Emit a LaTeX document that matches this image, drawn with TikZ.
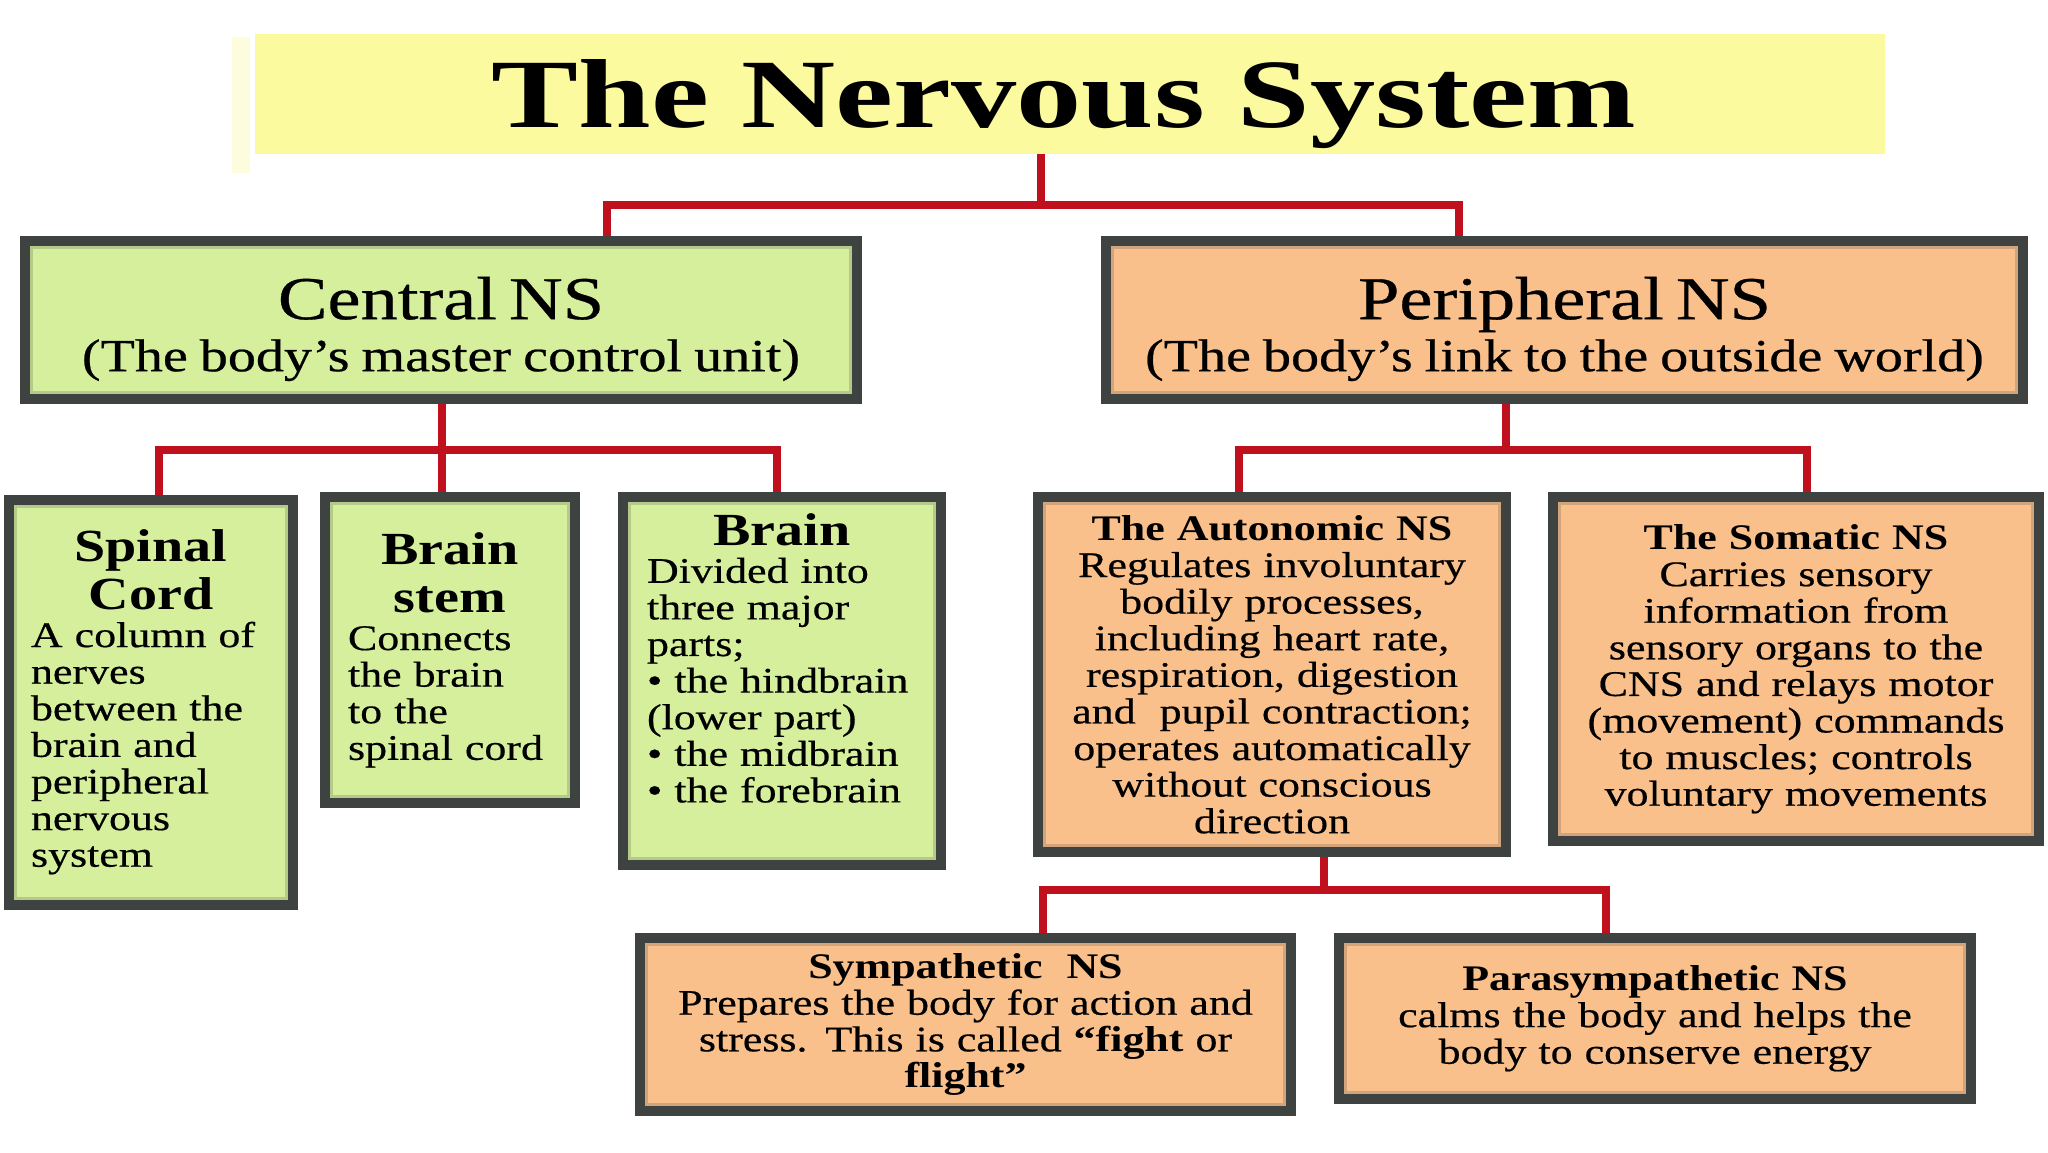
\documentclass[tikz,border=0pt]{standalone}
\usepackage{fontspec}
\setmainfont{Liberation Serif}[FakeStretch=1.22, UprightFeatures={FakeBold=0.5}]
\newfontfamily\bigtitlefamily{Liberation Serif}[FakeStretch=1.33]
\usetikzlibrary{backgrounds}
\definecolor{frameC}{RGB}{62,66,64}
\definecolor{greenC}{RGB}{214,239,156}
\definecolor{orangeC}{RGB}{250,192,140}
\definecolor{yellowC}{RGB}{251,250,158}
\definecolor{faintC}{RGB}{253,253,222}
\definecolor{redC}{RGB}{192,16,30}
\newcommand\bdA{\lineskiplimit=-100pt\fontsize{36}{36.6}\selectfont}
\newcommand\hdA{\fontsize{46}{48}\selectfont\bfseries}
\newcommand\ttlF{\bigtitlefamily\bfseries\fontsize{98}{100}\selectfont}
\newcommand\mainA{\fontsize{61}{61}\selectfont}
\newcommand\subA{\fontsize{46}{52}\selectfont}
\tikzset{
  box/.style={draw=frameC, line width=10pt, inner sep=0pt, outer sep=0pt, font=\bdA},
  gbox/.style={box, fill=greenC, path picture={\draw[line width=16pt, draw=greenC!78!frameC] (path picture bounding box.south west) rectangle (path picture bounding box.north east);}},
  obox/.style={box, fill=orangeC, path picture={\draw[line width=16pt, draw=orangeC!78!frameC] (path picture bounding box.south west) rectangle (path picture bounding box.north east);}},
  txt/.style={inner sep=0pt, outer sep=0pt, font=\bdA},
  conn/.style={draw=redC, line width=8pt, line join=miter},
}
\begin{document}
\begin{tikzpicture}[x=1pt,y=-1pt]
\useasboundingbox (0,0) rectangle (2048,1152);
% title
\node[fill=yellowC, minimum width=1630, minimum height=120, inner sep=0pt, outer sep=0pt] (title) at (1070,94) {};
\node[anchor=base, font=\ttlF, inner sep=0pt] (titleTxt) at (1064,127) {The Nervous System};
% level 1
\node[gbox, minimum width=832, minimum height=158] (cns) at (441,320) {};
\node[txt, text width=820, align=center] (cnsTxt) at (441,329)
  {\mainA Central NS\\\subA (The body’s master control unit)\par};
\node[obox, minimum width=917, minimum height=158] (pns) at (1564.5,320) {};
\node[txt, text width=900, align=center] (pnsTxt) at (1564.5,329)
  {\mainA Peripheral NS\\\subA (The body’s link to the outside world)\par};
% CNS children
\node[gbox, minimum width=284, minimum height=405, text width=240, align=left] (spinal) at (151,702)
  {\makebox[\linewidth]{\hdA Spinal}\\[11.4pt]\makebox[\linewidth]{\hdA Cord}\\[1pt]A column of\\nerves\\between the\\brain and\\peripheral\\nervous\\system};
\node[gbox, minimum width=250, minimum height=306, text width=204, align=left] (stem) at (450,650)
  {\makebox[\linewidth]{\hdA Brain}\\[11.4pt]\makebox[\linewidth]{\hdA stem}\\[1pt]Connects\\the brain\\to the\\spinal cord};
\node[gbox, minimum width=318, minimum height=368] (brain) at (782,681) {};
\node[txt, text width=270, align=left] (brainTxt) at (782,658)
  {\makebox[\linewidth]{\hdA Brain}\\[1pt]Divided into\\three major\\parts;\\• the hindbrain\\(lower part)\\• the midbrain\\• the forebrain};
% PNS children
\node[obox, minimum width=468, minimum height=355, text width=440, align=center] (auto) at (1272,674.5)
  {{\bfseries The Autonomic NS}\\Regulates involuntary\\bodily processes,\\including heart rate,\\respiration, digestion\\and\ \ pupil contraction;\\operates automatically\\without conscious\\direction};
\node[obox, minimum width=486, minimum height=344, text width=470, align=center] (soma) at (1796,669)
  {{\bfseries The Somatic NS}\\Carries sensory\\information from\\sensory organs to the\\CNS and relays motor\\(movement) commands\\to muscles; controls\\voluntary movements};
% Autonomic children
\node[obox, minimum width=651, minimum height=173, text width=620, align=center] (symp) at (965.5,1024.5)
  {{\bfseries Sympathetic\ \ NS}\\Prepares the body for action and\\stress. This is called {\bfseries “fight} or\\{\bfseries flight”}};
\node[obox, minimum width=632, minimum height=161, text width=600, align=center] (para) at (1655,1018.5)
  {{\bfseries Parasympathetic NS}\\calms the body and helps the\\body to conserve energy};
% junction coordinates
\coordinate (t) at (1041,205);
\coordinate (xa) at (607,0);
\coordinate (xb) at (1459,0);
\coordinate (cj) at (442,450);
\coordinate (c1) at (159,0);
\coordinate (c3) at (777,0);
\coordinate (pj) at (1506,450);
\coordinate (p1) at (1239,0);
\coordinate (p2) at (1807,0);
\coordinate (aj) at (1324,890);
\coordinate (a1) at (1043,0);
\coordinate (a2) at (1606,0);
\begin{scope}[on background layer]
  \fill[white] (0,0) rectangle (2048,1152);
  \fill[faintC] (232,37) rectangle (250,173);
  \draw[conn] (title.south -| t) -- (t);
  \draw[conn] (cns.north -| xa) |- (t) -| (pns.north -| xb);
  \draw[conn] (cns.south -| cj) -- (stem.north -| cj);
  \draw[conn] (spinal.north -| c1) |- (cj) -| (brain.north -| c3);
  \draw[conn] (pns.south -| pj) -- (pj);
  \draw[conn] (auto.north -| p1) |- (pj) -| (soma.north -| p2);
  \draw[conn] (auto.south -| aj) -- (aj);
  \draw[conn] (symp.north -| a1) |- (aj) -| (para.north -| a2);
\end{scope}
\end{tikzpicture}
\end{document}
